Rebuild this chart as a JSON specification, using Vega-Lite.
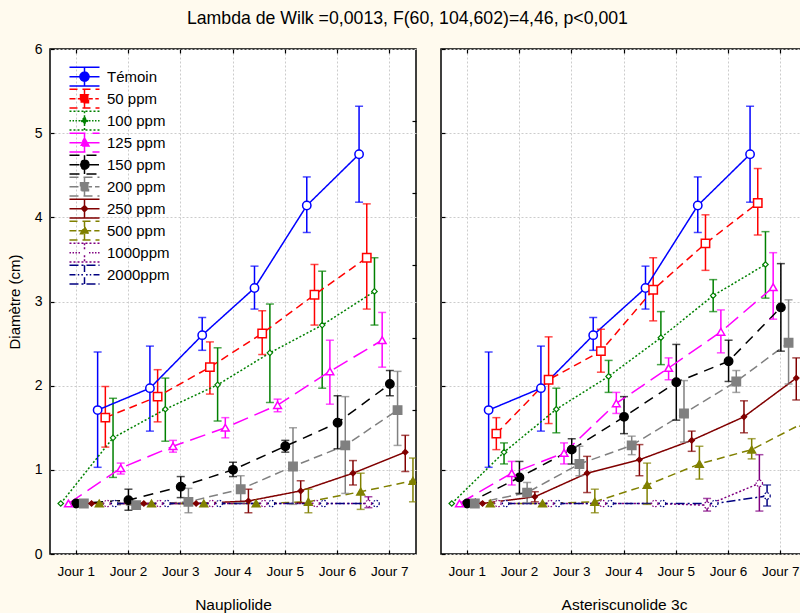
{
  "$schema": "https://vega.github.io/schema/vega-lite/v6.json",
  "background": "#fffaee",
  "padding": {"left": 6, "top": 9, "right": 0, "bottom": 0},
  "title": {"text": "Lambda de Wilk =0,0013, F(60, 104,602)=4,46, p<0,001", "font": "Liberation Sans", "fontSize": 17.7, "fontWeight": "normal", "color": "#000", "anchor": "middle", "frame": "bounds", "offset": 14},
  "config": {
    "font": "Liberation Sans",
    "view": {"stroke": "#000", "strokeWidth": 1.5, "fill": "#ffffff"},
    "axis": {"labelFont": "Liberation Sans", "titleFont": "Liberation Sans", "labelColor": "#000", "titleColor": "#000", "titleFontWeight": "normal", "domain": false, "tickColor": "#000", "tickWidth": 1.2, "gridColor": "#cccccc", "gridDash": [2, 2], "gridWidth": 1},
    "legend": {"title": null, "labelFontSize": 15, "labelFont": "Liberation Sans", "labelColor": "#000", "symbolLimit": 20}
  },
  "data": {"values": [
    {"panel": "Naupliolide", "series": "Témoin", "day": "Jour 2", "mean": 1.71, "lo": 1.03, "hi": 2.40},
    {"panel": "Naupliolide", "series": "Témoin", "day": "Jour 3", "mean": 1.97, "lo": 1.46, "hi": 2.47},
    {"panel": "Naupliolide", "series": "Témoin", "day": "Jour 4", "mean": 2.60, "lo": 2.42, "hi": 2.81},
    {"panel": "Naupliolide", "series": "Témoin", "day": "Jour 5", "mean": 3.16, "lo": 2.91, "hi": 3.42},
    {"panel": "Naupliolide", "series": "Témoin", "day": "Jour 6", "mean": 4.14, "lo": 3.82, "hi": 4.48},
    {"panel": "Naupliolide", "series": "Témoin", "day": "Jour 7", "mean": 4.75, "lo": 4.18, "hi": 5.32},
    {"panel": "Naupliolide", "series": "50 ppm", "day": "Jour 2", "mean": 1.62, "lo": 1.27, "hi": 1.99},
    {"panel": "Naupliolide", "series": "50 ppm", "day": "Jour 3", "mean": 1.87, "lo": 1.57, "hi": 2.19},
    {"panel": "Naupliolide", "series": "50 ppm", "day": "Jour 4", "mean": 2.22, "lo": 1.90, "hi": 2.52},
    {"panel": "Naupliolide", "series": "50 ppm", "day": "Jour 5", "mean": 2.62, "lo": 2.37, "hi": 2.89},
    {"panel": "Naupliolide", "series": "50 ppm", "day": "Jour 6", "mean": 3.08, "lo": 2.72, "hi": 3.44},
    {"panel": "Naupliolide", "series": "50 ppm", "day": "Jour 7", "mean": 3.52, "lo": 2.91, "hi": 4.16},
    {"panel": "Naupliolide", "series": "100 ppm", "day": "Jour 1", "mean": 0.60, "lo": null, "hi": null},
    {"panel": "Naupliolide", "series": "100 ppm", "day": "Jour 2", "mean": 1.38, "lo": 0.91, "hi": 1.85},
    {"panel": "Naupliolide", "series": "100 ppm", "day": "Jour 3", "mean": 1.72, "lo": 1.34, "hi": 2.09},
    {"panel": "Naupliolide", "series": "100 ppm", "day": "Jour 4", "mean": 2.01, "lo": 1.58, "hi": 2.45},
    {"panel": "Naupliolide", "series": "100 ppm", "day": "Jour 5", "mean": 2.39, "lo": 1.80, "hi": 2.97},
    {"panel": "Naupliolide", "series": "100 ppm", "day": "Jour 6", "mean": 2.72, "lo": 1.97, "hi": 3.36},
    {"panel": "Naupliolide", "series": "100 ppm", "day": "Jour 7", "mean": 3.12, "lo": 2.72, "hi": 3.52},
    {"panel": "Naupliolide", "series": "125 ppm", "day": "Jour 1", "mean": 0.60, "lo": null, "hi": null},
    {"panel": "Naupliolide", "series": "125 ppm", "day": "Jour 2", "mean": 1.02, "lo": 0.95, "hi": 1.08},
    {"panel": "Naupliolide", "series": "125 ppm", "day": "Jour 3", "mean": 1.28, "lo": 1.21, "hi": 1.35},
    {"panel": "Naupliolide", "series": "125 ppm", "day": "Jour 4", "mean": 1.50, "lo": 1.38, "hi": 1.62},
    {"panel": "Naupliolide", "series": "125 ppm", "day": "Jour 5", "mean": 1.77, "lo": 1.69, "hi": 1.84},
    {"panel": "Naupliolide", "series": "125 ppm", "day": "Jour 6", "mean": 2.17, "lo": 1.78, "hi": 2.54},
    {"panel": "Naupliolide", "series": "125 ppm", "day": "Jour 7", "mean": 2.54, "lo": 2.22, "hi": 2.87},
    {"panel": "Naupliolide", "series": "150 ppm", "day": "Jour 1", "mean": 0.60, "lo": null, "hi": null},
    {"panel": "Naupliolide", "series": "150 ppm", "day": "Jour 2", "mean": 0.64, "lo": 0.52, "hi": 0.77},
    {"panel": "Naupliolide", "series": "150 ppm", "day": "Jour 3", "mean": 0.80, "lo": 0.67, "hi": 0.92},
    {"panel": "Naupliolide", "series": "150 ppm", "day": "Jour 4", "mean": 1.00, "lo": 0.92, "hi": 1.09},
    {"panel": "Naupliolide", "series": "150 ppm", "day": "Jour 5", "mean": 1.28, "lo": 1.21, "hi": 1.35},
    {"panel": "Naupliolide", "series": "150 ppm", "day": "Jour 6", "mean": 1.56, "lo": 1.25, "hi": 1.88},
    {"panel": "Naupliolide", "series": "150 ppm", "day": "Jour 7", "mean": 2.02, "lo": 1.88, "hi": 2.18},
    {"panel": "Naupliolide", "series": "200 ppm", "day": "Jour 1", "mean": 0.60, "lo": null, "hi": null},
    {"panel": "Naupliolide", "series": "200 ppm", "day": "Jour 2", "mean": 0.58, "lo": null, "hi": null},
    {"panel": "Naupliolide", "series": "200 ppm", "day": "Jour 3", "mean": 0.62, "lo": 0.49, "hi": 0.78},
    {"panel": "Naupliolide", "series": "200 ppm", "day": "Jour 4", "mean": 0.77, "lo": 0.61, "hi": 0.93},
    {"panel": "Naupliolide", "series": "200 ppm", "day": "Jour 5", "mean": 1.04, "lo": 0.59, "hi": 1.50},
    {"panel": "Naupliolide", "series": "200 ppm", "day": "Jour 6", "mean": 1.29, "lo": 0.72, "hi": 1.87},
    {"panel": "Naupliolide", "series": "200 ppm", "day": "Jour 7", "mean": 1.71, "lo": 1.29, "hi": 2.17},
    {"panel": "Naupliolide", "series": "250 ppm", "day": "Jour 1", "mean": 0.60, "lo": null, "hi": null},
    {"panel": "Naupliolide", "series": "250 ppm", "day": "Jour 2", "mean": 0.60, "lo": null, "hi": null},
    {"panel": "Naupliolide", "series": "250 ppm", "day": "Jour 3", "mean": 0.60, "lo": null, "hi": null},
    {"panel": "Naupliolide", "series": "250 ppm", "day": "Jour 4", "mean": 0.63, "lo": 0.49, "hi": 0.77},
    {"panel": "Naupliolide", "series": "250 ppm", "day": "Jour 5", "mean": 0.75, "lo": 0.61, "hi": 0.87},
    {"panel": "Naupliolide", "series": "250 ppm", "day": "Jour 6", "mean": 0.96, "lo": 0.82, "hi": 1.11},
    {"panel": "Naupliolide", "series": "250 ppm", "day": "Jour 7", "mean": 1.21, "lo": 0.98, "hi": 1.41},
    {"panel": "Naupliolide", "series": "500 ppm", "day": "Jour 1", "mean": 0.60, "lo": null, "hi": null},
    {"panel": "Naupliolide", "series": "500 ppm", "day": "Jour 2", "mean": 0.60, "lo": null, "hi": null},
    {"panel": "Naupliolide", "series": "500 ppm", "day": "Jour 3", "mean": 0.60, "lo": null, "hi": null},
    {"panel": "Naupliolide", "series": "500 ppm", "day": "Jour 4", "mean": 0.60, "lo": null, "hi": null},
    {"panel": "Naupliolide", "series": "500 ppm", "day": "Jour 5", "mean": 0.62, "lo": 0.49, "hi": 0.77},
    {"panel": "Naupliolide", "series": "500 ppm", "day": "Jour 6", "mean": 0.74, "lo": 0.53, "hi": 0.96},
    {"panel": "Naupliolide", "series": "500 ppm", "day": "Jour 7", "mean": 0.87, "lo": 0.62, "hi": 1.14},
    {"panel": "Naupliolide", "series": "1000ppm", "day": "Jour 1", "mean": 0.60, "lo": null, "hi": null},
    {"panel": "Naupliolide", "series": "1000ppm", "day": "Jour 2", "mean": 0.60, "lo": null, "hi": null},
    {"panel": "Naupliolide", "series": "1000ppm", "day": "Jour 3", "mean": 0.60, "lo": null, "hi": null},
    {"panel": "Naupliolide", "series": "1000ppm", "day": "Jour 4", "mean": 0.60, "lo": null, "hi": null},
    {"panel": "Naupliolide", "series": "1000ppm", "day": "Jour 5", "mean": 0.60, "lo": null, "hi": null},
    {"panel": "Naupliolide", "series": "1000ppm", "day": "Jour 6", "mean": 0.60, "lo": 0.55, "hi": 0.68},
    {"panel": "Naupliolide", "series": "2000ppm", "day": "Jour 1", "mean": 0.60, "lo": null, "hi": null},
    {"panel": "Naupliolide", "series": "2000ppm", "day": "Jour 2", "mean": 0.60, "lo": null, "hi": null},
    {"panel": "Naupliolide", "series": "2000ppm", "day": "Jour 3", "mean": 0.60, "lo": null, "hi": null},
    {"panel": "Naupliolide", "series": "2000ppm", "day": "Jour 4", "mean": 0.60, "lo": null, "hi": null},
    {"panel": "Naupliolide", "series": "2000ppm", "day": "Jour 5", "mean": 0.60, "lo": null, "hi": null},
    {"panel": "Naupliolide", "series": "2000ppm", "day": "Jour 6", "mean": 0.60, "lo": null, "hi": null},
    {"panel": "Asteriscunolide 3c", "series": "Témoin", "day": "Jour 2", "mean": 1.71, "lo": 1.03, "hi": 2.40},
    {"panel": "Asteriscunolide 3c", "series": "Témoin", "day": "Jour 3", "mean": 1.97, "lo": 1.46, "hi": 2.47},
    {"panel": "Asteriscunolide 3c", "series": "Témoin", "day": "Jour 4", "mean": 2.60, "lo": 2.42, "hi": 2.81},
    {"panel": "Asteriscunolide 3c", "series": "Témoin", "day": "Jour 5", "mean": 3.16, "lo": 2.91, "hi": 3.42},
    {"panel": "Asteriscunolide 3c", "series": "Témoin", "day": "Jour 6", "mean": 4.14, "lo": 3.82, "hi": 4.48},
    {"panel": "Asteriscunolide 3c", "series": "Témoin", "day": "Jour 7", "mean": 4.75, "lo": 4.18, "hi": 5.32},
    {"panel": "Asteriscunolide 3c", "series": "50 ppm", "day": "Jour 2", "mean": 1.43, "lo": 1.24, "hi": 1.62},
    {"panel": "Asteriscunolide 3c", "series": "50 ppm", "day": "Jour 3", "mean": 2.07, "lo": 1.55, "hi": 2.58},
    {"panel": "Asteriscunolide 3c", "series": "50 ppm", "day": "Jour 4", "mean": 2.41, "lo": 2.16, "hi": 2.67},
    {"panel": "Asteriscunolide 3c", "series": "50 ppm", "day": "Jour 5", "mean": 3.14, "lo": 2.77, "hi": 3.52},
    {"panel": "Asteriscunolide 3c", "series": "50 ppm", "day": "Jour 6", "mean": 3.69, "lo": 3.37, "hi": 4.03},
    {"panel": "Asteriscunolide 3c", "series": "50 ppm", "day": "Jour 7", "mean": 4.17, "lo": 3.79, "hi": 4.58},
    {"panel": "Asteriscunolide 3c", "series": "100 ppm", "day": "Jour 1", "mean": 0.60, "lo": null, "hi": null},
    {"panel": "Asteriscunolide 3c", "series": "100 ppm", "day": "Jour 2", "mean": 1.21, "lo": 1.07, "hi": 1.32},
    {"panel": "Asteriscunolide 3c", "series": "100 ppm", "day": "Jour 3", "mean": 1.72, "lo": 1.44, "hi": 1.97},
    {"panel": "Asteriscunolide 3c", "series": "100 ppm", "day": "Jour 4", "mean": 2.11, "lo": 1.92, "hi": 2.30},
    {"panel": "Asteriscunolide 3c", "series": "100 ppm", "day": "Jour 5", "mean": 2.57, "lo": 2.25, "hi": 2.88},
    {"panel": "Asteriscunolide 3c", "series": "100 ppm", "day": "Jour 6", "mean": 3.07, "lo": 2.88, "hi": 3.26},
    {"panel": "Asteriscunolide 3c", "series": "100 ppm", "day": "Jour 7", "mean": 3.44, "lo": 3.04, "hi": 3.83},
    {"panel": "Asteriscunolide 3c", "series": "125 ppm", "day": "Jour 1", "mean": 0.60, "lo": null, "hi": null},
    {"panel": "Asteriscunolide 3c", "series": "125 ppm", "day": "Jour 2", "mean": 0.96, "lo": 0.82, "hi": 1.10},
    {"panel": "Asteriscunolide 3c", "series": "125 ppm", "day": "Jour 3", "mean": 1.20, "lo": 1.07, "hi": 1.32},
    {"panel": "Asteriscunolide 3c", "series": "125 ppm", "day": "Jour 4", "mean": 1.79, "lo": 1.67, "hi": 1.92},
    {"panel": "Asteriscunolide 3c", "series": "125 ppm", "day": "Jour 5", "mean": 2.21, "lo": 2.07, "hi": 2.33},
    {"panel": "Asteriscunolide 3c", "series": "125 ppm", "day": "Jour 6", "mean": 2.64, "lo": 2.39, "hi": 2.90},
    {"panel": "Asteriscunolide 3c", "series": "125 ppm", "day": "Jour 7", "mean": 3.17, "lo": 2.79, "hi": 3.58},
    {"panel": "Asteriscunolide 3c", "series": "150 ppm", "day": "Jour 1", "mean": 0.60, "lo": null, "hi": null},
    {"panel": "Asteriscunolide 3c", "series": "150 ppm", "day": "Jour 2", "mean": 0.91, "lo": 0.72, "hi": 1.10},
    {"panel": "Asteriscunolide 3c", "series": "150 ppm", "day": "Jour 3", "mean": 1.24, "lo": 1.07, "hi": 1.37},
    {"panel": "Asteriscunolide 3c", "series": "150 ppm", "day": "Jour 4", "mean": 1.63, "lo": 1.43, "hi": 1.87},
    {"panel": "Asteriscunolide 3c", "series": "150 ppm", "day": "Jour 5", "mean": 2.04, "lo": 1.59, "hi": 2.49},
    {"panel": "Asteriscunolide 3c", "series": "150 ppm", "day": "Jour 6", "mean": 2.29, "lo": 2.05, "hi": 2.54},
    {"panel": "Asteriscunolide 3c", "series": "150 ppm", "day": "Jour 7", "mean": 2.93, "lo": 2.41, "hi": 3.45},
    {"panel": "Asteriscunolide 3c", "series": "200 ppm", "day": "Jour 1", "mean": 0.60, "lo": null, "hi": null},
    {"panel": "Asteriscunolide 3c", "series": "200 ppm", "day": "Jour 2", "mean": 0.73, "lo": 0.61, "hi": 0.85},
    {"panel": "Asteriscunolide 3c", "series": "200 ppm", "day": "Jour 3", "mean": 1.07, "lo": 0.93, "hi": 1.28},
    {"panel": "Asteriscunolide 3c", "series": "200 ppm", "day": "Jour 4", "mean": 1.29, "lo": 1.18, "hi": 1.40},
    {"panel": "Asteriscunolide 3c", "series": "200 ppm", "day": "Jour 5", "mean": 1.67, "lo": 1.33, "hi": 2.06},
    {"panel": "Asteriscunolide 3c", "series": "200 ppm", "day": "Jour 6", "mean": 2.05, "lo": 1.92, "hi": 2.18},
    {"panel": "Asteriscunolide 3c", "series": "200 ppm", "day": "Jour 7", "mean": 2.51, "lo": 2.02, "hi": 3.02},
    {"panel": "Asteriscunolide 3c", "series": "250 ppm", "day": "Jour 1", "mean": 0.60, "lo": null, "hi": null},
    {"panel": "Asteriscunolide 3c", "series": "250 ppm", "day": "Jour 2", "mean": 0.68, "lo": 0.62, "hi": 0.74},
    {"panel": "Asteriscunolide 3c", "series": "250 ppm", "day": "Jour 3", "mean": 0.96, "lo": 0.73, "hi": 1.16},
    {"panel": "Asteriscunolide 3c", "series": "250 ppm", "day": "Jour 4", "mean": 1.12, "lo": 0.93, "hi": 1.30},
    {"panel": "Asteriscunolide 3c", "series": "250 ppm", "day": "Jour 5", "mean": 1.35, "lo": 1.22, "hi": 1.46},
    {"panel": "Asteriscunolide 3c", "series": "250 ppm", "day": "Jour 6", "mean": 1.63, "lo": 1.44, "hi": 1.82},
    {"panel": "Asteriscunolide 3c", "series": "250 ppm", "day": "Jour 7", "mean": 2.09, "lo": 1.83, "hi": 2.33},
    {"panel": "Asteriscunolide 3c", "series": "500 ppm", "day": "Jour 1", "mean": 0.60, "lo": null, "hi": null},
    {"panel": "Asteriscunolide 3c", "series": "500 ppm", "day": "Jour 2", "mean": 0.60, "lo": null, "hi": null},
    {"panel": "Asteriscunolide 3c", "series": "500 ppm", "day": "Jour 3", "mean": 0.62, "lo": 0.49, "hi": 0.77},
    {"panel": "Asteriscunolide 3c", "series": "500 ppm", "day": "Jour 4", "mean": 0.82, "lo": 0.59, "hi": 1.08},
    {"panel": "Asteriscunolide 3c", "series": "500 ppm", "day": "Jour 5", "mean": 1.07, "lo": 0.89, "hi": 1.28},
    {"panel": "Asteriscunolide 3c", "series": "500 ppm", "day": "Jour 6", "mean": 1.24, "lo": 1.13, "hi": 1.37},
    {"panel": "Asteriscunolide 3c", "series": "500 ppm", "day": "Jour 7", "mean": 1.56, "lo": 1.38, "hi": 1.75},
    {"panel": "Asteriscunolide 3c", "series": "1000ppm", "day": "Jour 1", "mean": 0.60, "lo": null, "hi": null},
    {"panel": "Asteriscunolide 3c", "series": "1000ppm", "day": "Jour 2", "mean": 0.60, "lo": null, "hi": null},
    {"panel": "Asteriscunolide 3c", "series": "1000ppm", "day": "Jour 3", "mean": 0.60, "lo": null, "hi": null},
    {"panel": "Asteriscunolide 3c", "series": "1000ppm", "day": "Jour 4", "mean": 0.60, "lo": null, "hi": null},
    {"panel": "Asteriscunolide 3c", "series": "1000ppm", "day": "Jour 5", "mean": 0.58, "lo": 0.51, "hi": 0.66},
    {"panel": "Asteriscunolide 3c", "series": "1000ppm", "day": "Jour 6", "mean": 0.84, "lo": 0.51, "hi": 1.18},
    {"panel": "Asteriscunolide 3c", "series": "2000ppm", "day": "Jour 1", "mean": 0.60, "lo": null, "hi": null},
    {"panel": "Asteriscunolide 3c", "series": "2000ppm", "day": "Jour 2", "mean": 0.60, "lo": null, "hi": null},
    {"panel": "Asteriscunolide 3c", "series": "2000ppm", "day": "Jour 3", "mean": 0.60, "lo": null, "hi": null},
    {"panel": "Asteriscunolide 3c", "series": "2000ppm", "day": "Jour 4", "mean": 0.60, "lo": null, "hi": null},
    {"panel": "Asteriscunolide 3c", "series": "2000ppm", "day": "Jour 5", "mean": 0.60, "lo": null, "hi": null},
    {"panel": "Asteriscunolide 3c", "series": "2000ppm", "day": "Jour 6", "mean": 0.69, "lo": 0.57, "hi": 0.82}
  ]},
  "spacing": 21,
  "hconcat": [
    {
      "width": 366, "height": 505,
      "transform": [{"filter": {"field": "panel", "equal": "Naupliolide"}}],
      "resolve": {"axis": {"x": "independent", "y": "independent"}},
      "layer": [
        {
          "mark": {"type": "rule", "strokeWidth": 1.5, "clip": true},
          "encoding": {
            "x": {"field": "day", "type": "ordinal", "scale": {"domain": ["Jour 1", "Jour 2", "Jour 3", "Jour 4", "Jour 5", "Jour 6", "Jour 7"], "paddingInner": 0, "paddingOuter": 0}, "axis": {"title": "Naupliolide", "titleFontSize": 15.5, "titlePadding": 20, "labelFontSize": 13.5, "labelAngle": 0, "tickSize": -4, "labelPadding": 14, "grid": true}},
            "xOffset": {"field": "series", "type": "nominal", "scale": {"domain": ["Témoin", "50 ppm", "100 ppm", "125 ppm", "150 ppm", "200 ppm", "250 ppm", "500 ppm", "1000ppm", "2000ppm"], "range": [-8.5, 68.5]}},
            "y": {"field": "lo", "type": "quantitative", "scale": {"domain": [0, 6], "nice": false, "zero": false}, "axis": {"title": "Diamètre (cm)", "titleFontSize": 15, "titlePadding": 12, "labelFontSize": 14, "tickSize": -4, "labelPadding": 12, "values": [0, 1, 2, 3, 4, 5, 6], "grid": true}},
            "y2": {"field": "hi"},
            "color": {"field": "series", "type": "nominal", "scale": {"domain": ["Témoin", "50 ppm", "100 ppm", "125 ppm", "150 ppm", "200 ppm", "250 ppm", "500 ppm", "1000ppm", "2000ppm"], "range": ["#0000ff", "#ff0000", "#008000", "#ff00ff", "#000000", "#808080", "#800000", "#808000", "#800080", "#000080"]},
              "legend": {"orient": "top-left", "offset": 16.5, "symbolOffset": 6, "labelOffset": 11, "symbolSize": 441, "clipHeight": 21.3, "rowPadding": 0, "zindex": 5, "symbolOpacity": 1, "symbolStrokeWidth": 1.5}}
          }
        },
        {
          "mark": {"type": "line", "strokeWidth": 1.5, "clip": true},
          "encoding": {
            "x": {"field": "day", "type": "ordinal", "axis": {"orient": "top", "labels": false, "title": null, "tickSize": -4, "grid": false}},
            "xOffset": {"field": "series", "type": "nominal"},
            "y": {"field": "mean", "type": "quantitative", "axis": {"orient": "right", "labels": false, "title": null, "tickSize": -4, "grid": false, "values": [0.857, 1.714, 2.571, 3.429, 4.286, 5.143]}},
            "color": {"field": "series", "type": "nominal", "legend": null},
            "strokeDash": {"field": "series", "type": "nominal", "scale": {"domain": ["Témoin", "50 ppm", "100 ppm", "125 ppm", "150 ppm", "200 ppm", "250 ppm", "500 ppm", "1000ppm", "2000ppm"], "range": [[1, 0], [8, 5], [2, 2], [16, 7], [10, 7], [9, 5], [1, 0], [8, 5], [2, 2], [9, 3, 2, 3]]}, "legend": null}
          }
        },
        {
          "mark": {"type": "tick", "thickness": 1.5, "size": 8, "orient": "horizontal", "clip": true},
          "encoding": {
            "x": {"field": "day", "type": "ordinal", "axis": null},
            "xOffset": {"field": "series", "type": "nominal"},
            "y": {"field": "lo", "type": "quantitative", "axis": null},
            "color": {"field": "series", "type": "nominal", "legend": null}
          }
        },
        {
          "mark": {"type": "tick", "thickness": 1.5, "size": 8, "orient": "horizontal", "clip": true},
          "encoding": {
            "x": {"field": "day", "type": "ordinal", "axis": null},
            "xOffset": {"field": "series", "type": "nominal"},
            "y": {"field": "hi", "type": "quantitative", "axis": null},
            "color": {"field": "series", "type": "nominal", "legend": null}
          }
        },
        {
          "transform": [{"filter": {"field": "series", "oneOf": ["Témoin", "150 ppm"]}}],
          "mark": {"type": "point", "shape": "circle", "size": 70, "strokeWidth": 1.5, "opacity": 1, "filled": false, "clip": true},
          "encoding": {
            "x": {"field": "day", "type": "ordinal", "axis": null},
            "xOffset": {"field": "series", "type": "nominal"},
            "y": {"field": "mean", "type": "quantitative", "axis": null},
            "color": {"field": "series", "type": "nominal"},
            "fill": {"field": "series", "type": "nominal", "scale": {"domain": ["Témoin", "50 ppm", "100 ppm", "125 ppm", "150 ppm", "200 ppm", "250 ppm", "500 ppm", "1000ppm", "2000ppm"], "range": ["#ffffff", "#ffffff", "#ffffff", "#ffffff", "#000000", "#808080", "#800000", "#808000", "#ffffff", "#ffffff"]}}
          }
        },
        {
          "transform": [{"filter": {"field": "series", "oneOf": ["50 ppm", "200 ppm"]}}],
          "mark": {"type": "point", "shape": "square", "size": 70, "strokeWidth": 1.5, "opacity": 1, "filled": false, "clip": true},
          "encoding": {
            "x": {"field": "day", "type": "ordinal", "axis": null},
            "xOffset": {"field": "series", "type": "nominal"},
            "y": {"field": "mean", "type": "quantitative", "axis": null},
            "color": {"field": "series", "type": "nominal"},
            "fill": {"field": "series", "type": "nominal"}
          }
        },
        {
          "transform": [{"filter": {"field": "series", "oneOf": ["100 ppm", "250 ppm"]}}],
          "mark": {"type": "point", "shape": "diamond", "size": 30, "strokeWidth": 1.2, "opacity": 1, "filled": false, "clip": true},
          "encoding": {
            "x": {"field": "day", "type": "ordinal", "axis": null},
            "xOffset": {"field": "series", "type": "nominal"},
            "y": {"field": "mean", "type": "quantitative", "axis": null},
            "color": {"field": "series", "type": "nominal"},
            "fill": {"field": "series", "type": "nominal"}
          }
        },
        {
          "transform": [{"filter": {"field": "series", "oneOf": ["125 ppm", "500 ppm"]}}],
          "mark": {"type": "point", "shape": "triangle-up", "size": 60, "strokeWidth": 1.5, "opacity": 1, "filled": false, "clip": true},
          "encoding": {
            "x": {"field": "day", "type": "ordinal", "axis": null},
            "xOffset": {"field": "series", "type": "nominal"},
            "y": {"field": "mean", "type": "quantitative", "axis": null},
            "color": {"field": "series", "type": "nominal"},
            "fill": {"field": "series", "type": "nominal"}
          }
        },
        {
          "transform": [{"filter": {"field": "series", "oneOf": ["1000ppm", "2000ppm"]}}],
          "mark": {"type": "point", "shape": "circle", "size": 40, "strokeWidth": 1.2, "strokeDash": [1.5, 1.5], "opacity": 1, "filled": false, "clip": true},
          "encoding": {
            "x": {"field": "day", "type": "ordinal", "axis": null},
            "xOffset": {"field": "series", "type": "nominal"},
            "y": {"field": "mean", "type": "quantitative", "axis": null},
            "color": {"field": "series", "type": "nominal"},
            "fill": {"field": "series", "type": "nominal"}
          }
        },
        {
          "transform": [{"filter": {"field": "day", "equal": "Jour 0"}}],
          "mark": {"type": "point", "filled": false, "opacity": 1},
          "encoding": {
            "x": {"field": "day", "type": "ordinal", "axis": null},
            "xOffset": {"field": "series", "type": "nominal"},
            "y": {"field": "mean", "type": "quantitative", "axis": null},
            "color": {"field": "series", "type": "nominal"},
            "fill": {"field": "series", "type": "nominal"},
            "shape": {"field": "series", "type": "nominal", "scale": {"domain": ["Témoin", "50 ppm", "100 ppm", "125 ppm", "150 ppm", "200 ppm", "250 ppm", "500 ppm", "1000ppm", "2000ppm"], "range": [
              "M-1.43,-0.9L1.43,-0.9M-1.43,0.9L1.43,0.9M0,-0.9L0,-0.43M0,0.43L0,0.9M-1.43,0L-0.43,0M0.43,0L1.43,0M0.43,0A0.43,0.43 0 1,1 -0.43,0A0.43,0.43 0 1,1 0.43,0Z",
              "M-1.43,-0.9L1.43,-0.9M-1.43,0.9L1.43,0.9M0,-0.9L0,-0.38M0,0.38L0,0.9M-1.43,0L-0.86,0M-0.64,0L-0.38,0M0.38,0L0.79,0M1.03,0L1.36,0M-0.38,-0.38L0.38,-0.38L0.38,0.38L-0.38,0.38Z",
              "M-1.43,-0.9L1.43,-0.9M-1.43,0.9L1.43,0.9M0,-0.9L0,-0.31M0,0.31L0,0.9M-1.43,0L-1.29,0M-1.14,0L-1,0M-0.86,0L-0.72,0M-0.57,0L-0.43,0M0.43,0L0.57,0M0.72,0L0.86,0M1,0L1.14,0M1.29,0L1.43,0M0,-0.31L0.31,0L0,0.31L-0.31,0Z",
              "M-1.43,-0.9L1.43,-0.9M-1.43,0.9L1.43,0.9M0,-0.9L0,-0.43M0,0.33L0,0.9M-1.43,0L-0.25,0M0.25,0L1.43,0M0,-0.43L0.43,0.33L-0.43,0.33Z",
              "M-1.43,-0.9L1.43,-0.9M-1.43,0.9L1.43,0.9M0,-0.9L0,-0.43M0,0.43L0,0.9M-1.43,0L-0.43,0M0.43,0L1.43,0M0.43,0A0.43,0.43 0 1,1 -0.43,0A0.43,0.43 0 1,1 0.43,0Z",
              "M-1.43,-0.9L1.43,-0.9M-1.43,0.9L1.43,0.9M0,-0.9L0,-0.38M0,0.38L0,0.9M-1.43,0L-0.38,0M0.38,0L0.72,0M1,0L1.43,0M-0.38,-0.38L0.38,-0.38L0.38,0.38L-0.38,0.38Z",
              "M-1.43,-0.9L1.43,-0.9M-1.43,0.9L1.43,0.9M0,-0.9L0,-0.29M0,0.29L0,0.9M-1.43,0L-0.29,0M0.29,0L1.43,0M0,-0.29L0.29,0L0,0.29L-0.29,0Z",
              "M-1.43,-0.9L1.43,-0.9M-1.43,0.9L1.43,0.9M0,-0.9L0,-0.38M0,0.29L0,0.9M-1.43,0L-0.79,0M-0.57,0L-0.22,0M0.22,0L0.64,0M0.93,0L1.43,0M0,-0.38L0.38,0.29L-0.38,0.29Z",
              "M-1.43,-0.9L1.43,-0.9M-1.43,0.9L1.43,0.9M0,-0.9L0,-0.25M0,0.25L0,0.9M-1.43,0L-1.29,0M-1.14,0L-1,0M-0.86,0L-0.72,0M-0.57,0L-0.43,0M0.43,0L0.57,0M0.72,0L0.86,0M1,0L1.14,0M1.29,0L1.43,0",
              "M-1.43,-0.9L1.43,-0.9M-1.43,0.9L1.43,0.9M0,-0.9L0,-0.25M0,0.25L0,0.9M-1.43,0L-0.86,0M-0.64,0L-0.5,0M-0.3,0L-0.15,0M0.15,0L0.3,0M0.5,0L0.64,0M0.86,0L1.43,0"
            ]}}
          }
        }
      ]
    },
    {
      "width": 366, "height": 505,
      "transform": [{"filter": {"field": "panel", "equal": "Asteriscunolide 3c"}}],
      "resolve": {"axis": {"x": "independent", "y": "independent"}},
      "layer": [
        {
          "mark": {"type": "rule", "strokeWidth": 1.5, "clip": true},
          "encoding": {
            "x": {"field": "day", "type": "ordinal", "scale": {"domain": ["Jour 1", "Jour 2", "Jour 3", "Jour 4", "Jour 5", "Jour 6", "Jour 7"], "paddingInner": 0, "paddingOuter": 0}, "axis": {"title": "Asteriscunolide 3c", "titleFontSize": 15.5, "titlePadding": 20, "labelFontSize": 13.5, "labelAngle": 0, "tickSize": -4, "labelPadding": 14, "grid": true}},
            "xOffset": {"field": "series", "type": "nominal", "scale": {"domain": ["Témoin", "50 ppm", "100 ppm", "125 ppm", "150 ppm", "200 ppm", "250 ppm", "500 ppm", "1000ppm", "2000ppm"], "range": [-8.5, 68.5]}},
            "y": {"field": "lo", "type": "quantitative", "scale": {"domain": [0, 6], "nice": false, "zero": false}, "axis": {"title": null, "labels": false, "tickSize": -4, "values": [0, 1, 2, 3, 4, 5, 6], "grid": true}},
            "y2": {"field": "hi"},
            "color": {"field": "series", "type": "nominal"}
          }
        },
        {
          "mark": {"type": "line", "strokeWidth": 1.5, "clip": true},
          "encoding": {
            "x": {"field": "day", "type": "ordinal", "axis": {"orient": "top", "labels": false, "title": null, "tickSize": -4, "grid": false}},
            "xOffset": {"field": "series", "type": "nominal"},
            "y": {"field": "mean", "type": "quantitative", "axis": {"orient": "right", "labels": false, "title": null, "tickSize": -4, "grid": false, "values": [0.857, 1.714, 2.571, 3.429, 4.286, 5.143]}},
            "color": {"field": "series", "type": "nominal", "legend": null},
            "strokeDash": {"field": "series", "type": "nominal", "legend": null}
          }
        },
        {
          "mark": {"type": "tick", "thickness": 1.5, "size": 8, "orient": "horizontal", "clip": true},
          "encoding": {
            "x": {"field": "day", "type": "ordinal", "axis": null},
            "xOffset": {"field": "series", "type": "nominal"},
            "y": {"field": "lo", "type": "quantitative", "axis": null},
            "color": {"field": "series", "type": "nominal", "legend": null}
          }
        },
        {
          "mark": {"type": "tick", "thickness": 1.5, "size": 8, "orient": "horizontal", "clip": true},
          "encoding": {
            "x": {"field": "day", "type": "ordinal", "axis": null},
            "xOffset": {"field": "series", "type": "nominal"},
            "y": {"field": "hi", "type": "quantitative", "axis": null},
            "color": {"field": "series", "type": "nominal", "legend": null}
          }
        },
        {
          "transform": [{"filter": {"field": "series", "oneOf": ["Témoin", "150 ppm"]}}],
          "mark": {"type": "point", "shape": "circle", "size": 70, "strokeWidth": 1.5, "opacity": 1, "filled": false, "clip": true},
          "encoding": {
            "x": {"field": "day", "type": "ordinal", "axis": null},
            "xOffset": {"field": "series", "type": "nominal"},
            "y": {"field": "mean", "type": "quantitative", "axis": null},
            "color": {"field": "series", "type": "nominal"},
            "fill": {"field": "series", "type": "nominal"}
          }
        },
        {
          "transform": [{"filter": {"field": "series", "oneOf": ["50 ppm", "200 ppm"]}}],
          "mark": {"type": "point", "shape": "square", "size": 70, "strokeWidth": 1.5, "opacity": 1, "filled": false, "clip": true},
          "encoding": {
            "x": {"field": "day", "type": "ordinal", "axis": null},
            "xOffset": {"field": "series", "type": "nominal"},
            "y": {"field": "mean", "type": "quantitative", "axis": null},
            "color": {"field": "series", "type": "nominal"},
            "fill": {"field": "series", "type": "nominal"}
          }
        },
        {
          "transform": [{"filter": {"field": "series", "oneOf": ["100 ppm", "250 ppm"]}}],
          "mark": {"type": "point", "shape": "diamond", "size": 30, "strokeWidth": 1.2, "opacity": 1, "filled": false, "clip": true},
          "encoding": {
            "x": {"field": "day", "type": "ordinal", "axis": null},
            "xOffset": {"field": "series", "type": "nominal"},
            "y": {"field": "mean", "type": "quantitative", "axis": null},
            "color": {"field": "series", "type": "nominal"},
            "fill": {"field": "series", "type": "nominal"}
          }
        },
        {
          "transform": [{"filter": {"field": "series", "oneOf": ["125 ppm", "500 ppm"]}}],
          "mark": {"type": "point", "shape": "triangle-up", "size": 60, "strokeWidth": 1.5, "opacity": 1, "filled": false, "clip": true},
          "encoding": {
            "x": {"field": "day", "type": "ordinal", "axis": null},
            "xOffset": {"field": "series", "type": "nominal"},
            "y": {"field": "mean", "type": "quantitative", "axis": null},
            "color": {"field": "series", "type": "nominal"},
            "fill": {"field": "series", "type": "nominal"}
          }
        },
        {
          "transform": [{"filter": {"field": "series", "oneOf": ["1000ppm", "2000ppm"]}}],
          "mark": {"type": "point", "shape": "circle", "size": 40, "strokeWidth": 1.2, "strokeDash": [1.5, 1.5], "opacity": 1, "filled": false, "clip": true},
          "encoding": {
            "x": {"field": "day", "type": "ordinal", "axis": null},
            "xOffset": {"field": "series", "type": "nominal"},
            "y": {"field": "mean", "type": "quantitative", "axis": null},
            "color": {"field": "series", "type": "nominal"},
            "fill": {"field": "series", "type": "nominal"}
          }
        }
      ]
    }
  ]
}
